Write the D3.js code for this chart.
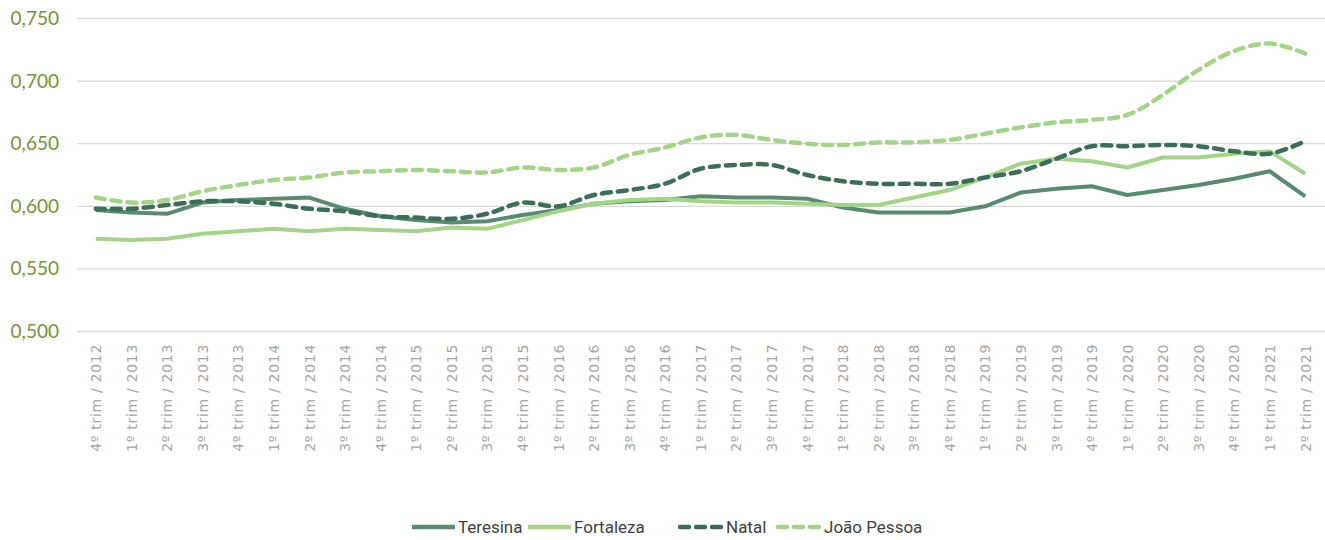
<!DOCTYPE html>
<meta charset="utf-8">
<body></body>
<script src="https://d3js.org/d3.v7.min.js"></script>
<style>
    body { margin: 0; background: #fff; }
    .grid line { stroke: #d9d9d9; stroke-width: 1.3px; }
    .yaxis text { fill: #76923c; font-family: Lato, sans-serif; font-size: 19px; }
    .xaxis text { fill: #a6a6a6; font-family: "DejaVu Sans", sans-serif; font-size: 14px; letter-spacing: 0.7px; }
    .legend text { fill: #404040; font-family: "Liberation Sans Narrow", Roboto, sans-serif; font-size: 17px; }
</style>
<script>
    var categories = ["4º trim / 2012",
        "1º trim / 2013", "2º trim / 2013", "3º trim / 2013", "4º trim / 2013",
        "1º trim / 2014", "2º trim / 2014", "3º trim / 2014", "4º trim / 2014",
        "1º trim / 2015", "2º trim / 2015", "3º trim / 2015", "4º trim / 2015",
        "1º trim / 2016", "2º trim / 2016", "3º trim / 2016", "4º trim / 2016",
        "1º trim / 2017", "2º trim / 2017", "3º trim / 2017", "4º trim / 2017",
        "1º trim / 2018", "2º trim / 2018", "3º trim / 2018", "4º trim / 2018",
        "1º trim / 2019", "2º trim / 2019", "3º trim / 2019", "4º trim / 2019",
        "1º trim / 2020", "2º trim / 2020", "3º trim / 2020", "4º trim / 2020",
        "1º trim / 2021", "2º trim / 2021"]

    var teresina = [0.597, 0.595, 0.594, 0.603, 0.605, 0.606, 0.607, 0.598, 0.592,
        0.589, 0.587, 0.588, 0.593, 0.597, 0.602, 0.604, 0.605, 0.608, 0.607, 0.607, 0.606,
        0.599, 0.595, 0.595, 0.595, 0.600, 0.611, 0.614, 0.616, 0.609, 0.613, 0.617, 0.622,
        0.628, 0.608]
    var fortaleza = [0.574, 0.573, 0.574, 0.578, 0.580, 0.582, 0.580, 0.582, 0.581,
        0.580, 0.583, 0.582, 0.589, 0.596, 0.602, 0.605, 0.606, 0.604, 0.603, 0.603, 0.602,
        0.601, 0.601, 0.607, 0.613, 0.623, 0.634, 0.638, 0.636, 0.631, 0.639, 0.639, 0.642,
        0.644, 0.626]
    var natal = [0.598, 0.598, 0.601, 0.604, 0.604, 0.602, 0.598, 0.596, 0.592,
        0.591, 0.590, 0.594, 0.603, 0.600, 0.609, 0.613, 0.618, 0.630, 0.633, 0.633, 0.625,
        0.620, 0.618, 0.618, 0.618, 0.623, 0.628, 0.638, 0.648, 0.648, 0.649, 0.648, 0.644,
        0.642, 0.652]
    var joaoPessoa = [0.607, 0.603, 0.605, 0.612, 0.617, 0.621, 0.623, 0.627, 0.628,
        0.629, 0.628, 0.627, 0.631, 0.629, 0.631, 0.641, 0.647, 0.655, 0.657, 0.653, 0.650,
        0.649, 0.651, 0.651, 0.653, 0.658, 0.663, 0.667, 0.669, 0.673, 0.689, 0.709, 0.724,
        0.730, 0.722]
    var yTicks = [0.500, 0.550, 0.600, 0.650, 0.700, 0.750]

    var series = [
        {name: "Teresina", values: teresina, color: "#5b8a73", dash: null, smooth: false},
        {name: "Fortaleza", values: fortaleza, color: "#a6d38c", dash: null, smooth: false},
        {name: "Natal", values: natal, color: "#3f6e58", dash: "9,7", smooth: true},
        {name: "João Pessoa", values: joaoPessoa, color: "#a6d38c", dash: "9,7", smooth: true}
    ]

    var width = 1325,
        height = 540;

    var svg = d3.select("body").append("svg")
        .attr("width", width)
        .attr("height", height)

    var x = d3.scalePoint()
        .domain(categories)
        .range([78, width - 2])
        .padding(0.5)

    var y = d3.scaleLinear()
        .domain([0.5, 0.75])
        .range([331.5, 18.5])

    svg.append("g")
        .attr("class", "grid")
        .selectAll("line")
        .data(yTicks)
        .enter().append("line")
            .attr("x1", 77)
            .attr("x2", width)
            .attr("y1", d => y(d))
            .attr("y2", d => y(d))

    var yAxis = svg.append("g")
        .attr("class", "yaxis")
        .attr("transform", "translate(59,0)")
        .call(d3.axisLeft(y).tickValues(yTicks).tickSize(0).tickPadding(0)
            .tickFormat(d => d3.format(".3f")(d).replace(".", ",")))
    yAxis.select(".domain").remove()

    var xAxis = svg.append("g")
        .attr("class", "xaxis")
        .attr("transform", "translate(0,344)")
        .call(d3.axisBottom(x).tickSize(0).tickPadding(0))
    xAxis.select(".domain").remove()
    xAxis.selectAll("text")
        .attr("transform", "rotate(-90)")
        .attr("text-anchor", "end")
        .attr("dy", "0.35em")
        .attr("x", 0)
        .attr("y", 0)

    series.forEach(function(s) {
        var line = d3.line()
            .x((d, i) => x(categories[i]))
            .y(d => y(d))
            .curve(s.smooth ? d3.curveCatmullRom.alpha(0.5) : d3.curveLinear)
        svg.append("path")
            .datum(s.values)
            .attr("fill", "none")
            .attr("stroke", s.color)
            .attr("stroke-width", s.dash ? 4.5 : 4)
            .attr("stroke-linejoin", "round")
            .attr("stroke-linecap", s.dash ? "round" : "butt")
            .attr("stroke-dasharray", s.dash)
            .attr("d", line)
    })

    // legend
    var legendX = [412, 528, 680, 778]
    var legend = svg.append("g").attr("class", "legend")
    series.forEach(function(s, i) {
        var g = legend.append("g").attr("transform", "translate(" + legendX[i] + ",527)")
        g.append("line")
            .attr("x1", 0).attr("x2", 43)
            .attr("stroke", s.color)
            .attr("stroke-width", 4.5)
            .attr("stroke-linecap", s.dash ? "round" : "butt")
            .attr("stroke-dasharray", s.dash)
        g.append("text")
            .attr("x", 46)
            .attr("dy", "0.35em")
            .text(s.name)
    })
</script>
